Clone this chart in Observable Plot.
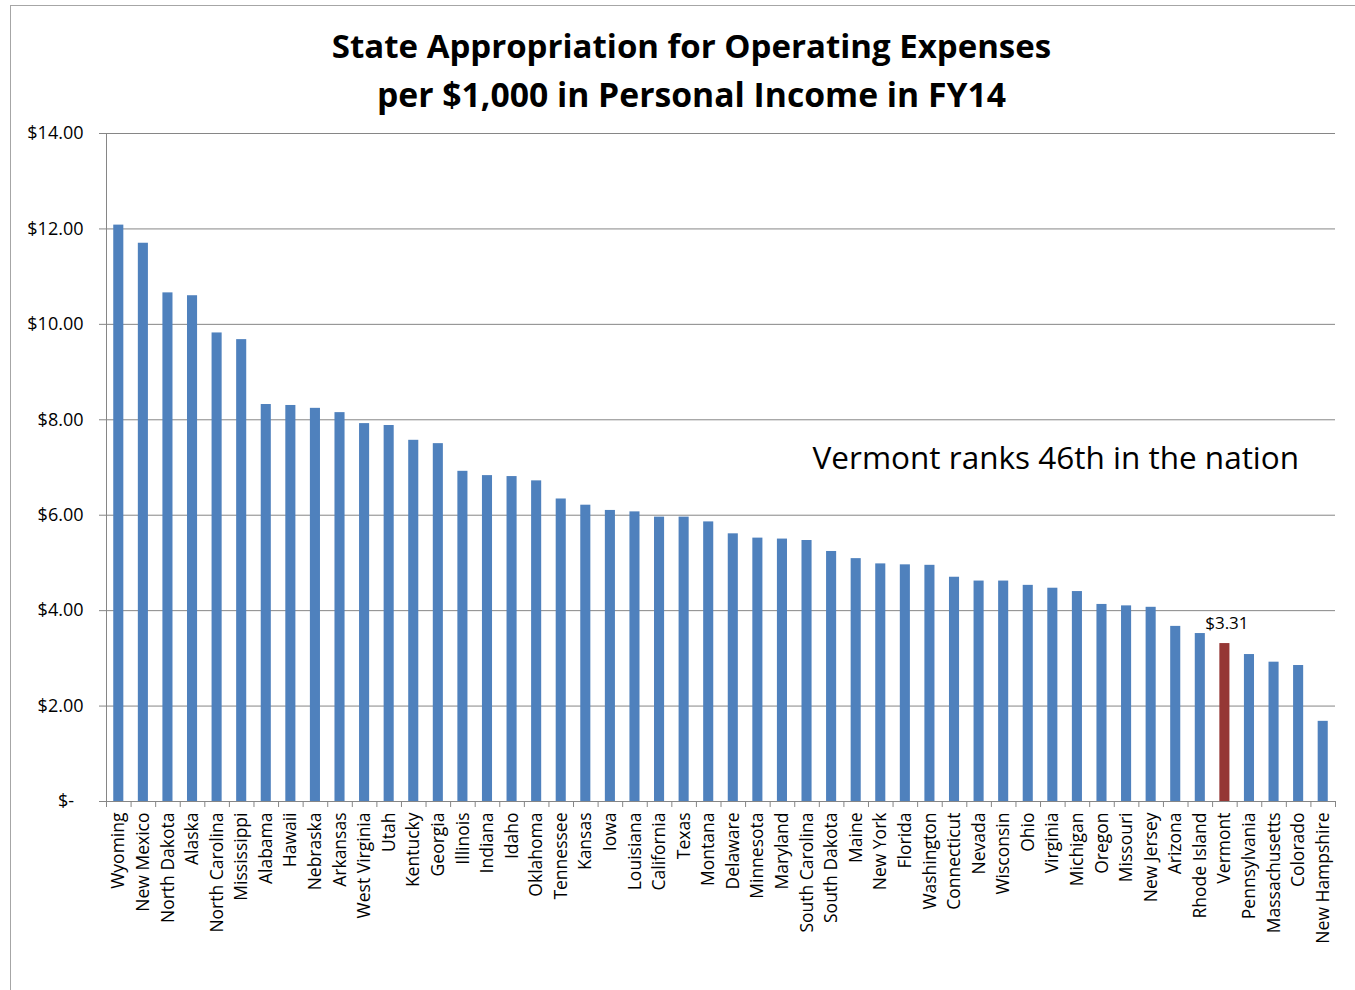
<!DOCTYPE html>
<html>
<head>
<meta charset="utf-8">
<script src="https://cdn.jsdelivr.net/npm/d3@7"></script>
<script src="https://cdn.jsdelivr.net/npm/@observablehq/plot@0.6"></script>
<style>
  html, body { margin: 0; padding: 0; background: #fff; overflow: hidden; }
  #page { position: relative; width: 1355px; height: 990px; overflow: hidden; }
  #border { position: absolute; left: 10px; top: 5px; width: 1400px; height: 1000px;
            border-left: 1px solid #a6a6a6; border-top: 1px solid #a6a6a6; box-sizing: border-box; }
  #title { position: relative; height: 120px; box-sizing: border-box; padding-top: 21px; padding-left: 28px;
           text-align: center; font-family: "Open Sans", sans-serif; font-weight: bold; font-size: 33px;
           line-height: 49px; color: #000; }
  #title .l2 { font-size: 33.7px; }
  #chart { position: relative; }
</style>
</head>
<body>
<div id="page">
  <div id="border"></div>
  <div id="title">State Appropriation for Operating Expenses<br><span class="l2">per $1,000 in Personal Income in FY14</span></div>
  <div id="chart"></div>
</div>
<script>
const states = ["Wyoming","New Mexico","North Dakota","Alaska","North Carolina","Mississippi","Alabama","Hawaii",
  "Nebraska","Arkansas","West Virginia","Utah","Kentucky","Georgia","Illinois","Indiana","Idaho","Oklahoma",
  "Tennessee","Kansas","Iowa","Louisiana","California","Texas","Montana","Delaware","Minnesota","Maryland",
  "South Carolina","South Dakota","Maine","New York","Florida","Washington","Connecticut","Nevada","Wisconsin",
  "Ohio","Virginia","Michigan","Oregon","Missouri","New Jersey","Arizona","Rhode Island","Vermont",
  "Pennsylvania","Massachusetts","Colorado","New Hampshire"];
const values = [12.08,11.70,10.66,10.60,9.82,9.68,8.32,8.30,
  8.24,8.15,7.92,7.88,7.57,7.50,6.92,6.83,6.81,6.72,
  6.34,6.21,6.10,6.07,5.96,5.96,5.86,5.61,5.52,5.50,
  5.47,5.24,5.09,4.98,4.96,4.95,4.70,4.62,4.62,
  4.53,4.47,4.40,4.13,4.10,4.07,3.67,3.52,3.31,
  3.08,2.92,2.85,1.68];
const highlight = "Vermont";
const yTicks = [0,2,4,6,8,10,12,14];
const annotation = "Vermont ranks 46th in the nation";
const highlightLabel = "$3.31";

const data = states.map((s, i) => ({state: s, value: values[i]}));
const W = 1355, H = 870, ml = 106, mr = 20, mt = 13, mb = 189;
const plotH = H - mt - mb;
const step = (W - ml - mr) / states.length;
const blue = "#4F81BD", red = "#953735", gray = "#868686";
const fmt = d => d === 0 ? "$-\u00a0\u00a0" : "$" + d.toFixed(2);

const chart = Plot.plot({
  width: W, height: H,
  marginLeft: ml, marginRight: mr, marginTop: mt, marginBottom: mb,
  style: {fontFamily: "'Open Sans', sans-serif", fontSize: "17px", color: "#000", background: "transparent", overflow: "visible"},
  x: {domain: states, paddingInner: 0.59, paddingOuter: 0.295, round: false, label: null},
  y: {domain: [0, 14], label: null},
  marks: [
    Plot.ruleY(yTicks, {stroke: gray, strokeWidth: 1}),
    Plot.barY(data.filter(d => d.state !== highlight), {x: "state", y: "value", fill: blue}),
    Plot.barY(data.filter(d => d.state === highlight), {x: "state", y: "value", fill: red}),
    Plot.ruleX([states[0]], {dx: -step / 2, stroke: gray}),
    Plot.ruleX(states, {dx: -step / 2, stroke: gray, insetTop: plotH, insetBottom: -6}),
    Plot.ruleX([states[states.length - 1]], {dx: step / 2, stroke: gray, insetTop: plotH, insetBottom: -6}),
    Plot.axisY({ticks: yTicks, tickFormat: fmt, tickSize: 7, tickPadding: 16, stroke: gray, fill: "#000", fontSize: 18}),
    Plot.axisX({tickSize: 0, tickRotate: -90, tickPadding: 11, fill: "#000", fontSize: 17.5}),
    Plot.text([annotation], {x: () => "Virginia", y: () => 7.17, text: d => d, fontSize: 31.5, fill: "#000", dx: 3}),
    Plot.text([highlightLabel], {x: () => highlight, y: () => values[states.indexOf(highlight)], text: d => d,
      fontSize: 17, fill: "#000", dy: -20, dx: 2})
  ]
});
document.getElementById("chart").appendChild(chart);
</script>
</body>
</html>
